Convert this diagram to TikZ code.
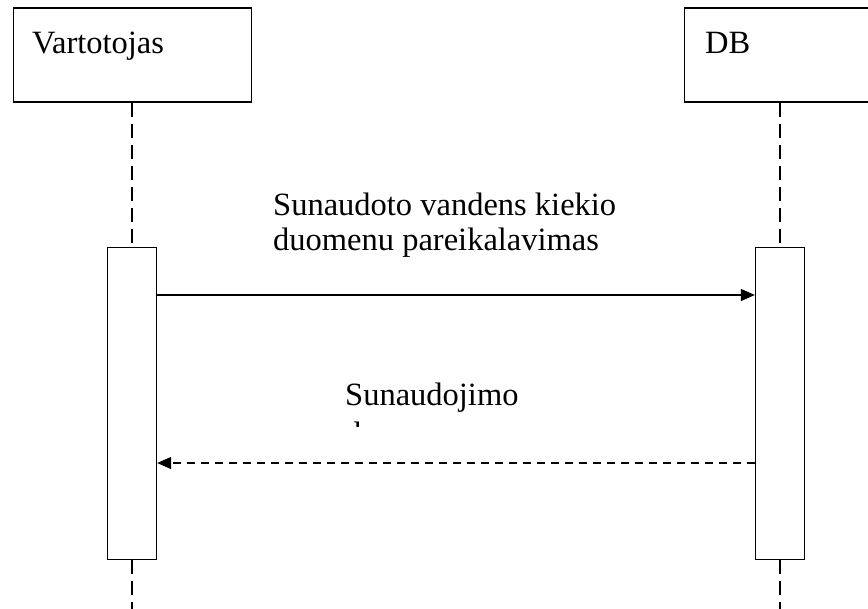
\documentclass[tikz,border=0pt]{standalone}
\usepackage{fontspec}
\setmainfont{Liberation Serif}
\usetikzlibrary{arrows.meta}
\begin{document}
\begin{tikzpicture}[x=1pt,y=-1pt,
  actorbox/.style={draw,line width=1.3pt,anchor=north west,inner sep=0pt,minimum width=238pt,minimum height=94pt},
  actbar/.style={draw,line width=1.3pt,fill=white,anchor=north,inner sep=0pt,minimum width=49pt,minimum height=312pt},
  lbl/.style={anchor=base west,inner sep=0pt,font=\fontsize{32.5}{35}\selectfont,align=left},
  life/.style={line width=1.3pt,dash pattern=on 14pt off 7pt},
  msg/.style={line width=1.3pt,-{Triangle[length=14pt,width=12pt]}},
  ret/.style={msg,dash pattern=on 8pt off 6pt}]
\useasboundingbox (0,0) rectangle (868,609);
\clip (0,0) rectangle (868,609);
% actors
\node[actorbox] (vart) at (12.5,7.5) {};
\node[actorbox,minimum width=192pt] (db) at (684,7.5) {};
\node[lbl] (vartl) at (32,53.5) {Vartotojas};
\node[lbl] (dbl) at (705,53.5) {DB};
% activations
\node[actbar] (actL) at (132,247) {};
\node[actbar] (actR) at (780,247) {};
% lifelines
\coordinate (endL) at (132,612);
\coordinate (endR) at (780,612);
\draw[life] (actL.north |- vart.south) -- (actL.north);
\draw[life] (actR.north |- db.south) -- (actR.north);
\draw[life] (actL.south) -- (endL);
\draw[life] (actR.south) -- (endR);
% messages
\coordinate (m1) at (0,295);
\coordinate (m2) at (0,463);
\draw[msg] (actL.east |- m1) -- (actR.west |- m1);
\draw[ret] (actR.west |- m2) -- (actL.east |- m2);
\node[lbl] (t1a) at (273,216) {Sunaudoto vandens kiekio};
\node[lbl] (t1b) at (273,251) {duomenu pareikalavimas};
\node[lbl] (t2) at (345,406) {Sunaudojimo};
\begin{scope}
\clip (300,412) rectangle (420,427);
\node[lbl] (t2b) at (345,444.5) {duomenys};
\end{scope}
\end{tikzpicture}
\end{document}
